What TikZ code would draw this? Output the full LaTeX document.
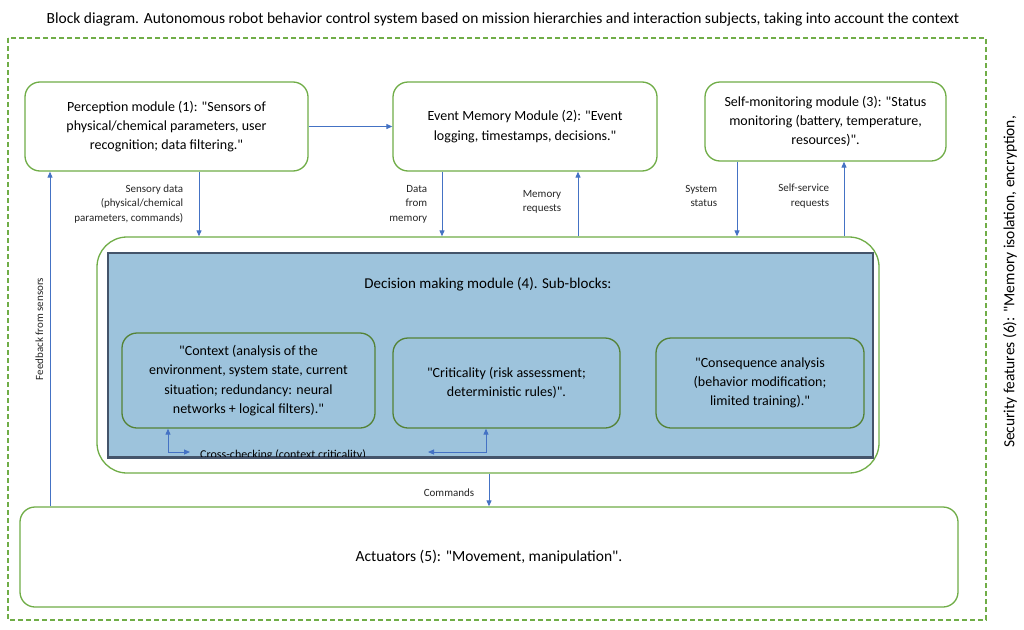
\documentclass[tikz,border=0pt]{standalone}
\usepackage{fontspec}
\setmainfont{Carlito}[Ligatures=TeXOff]
\usepackage{tikz}
\usetikzlibrary{arrows.meta}
\usetikzlibrary{calc}

\definecolor{boxgreen}{HTML}{70AD47}
\definecolor{subgreen}{HTML}{548235}
\definecolor{flowblue}{HTML}{4472C4}
\definecolor{decfill}{HTML}{9DC3DC}
\definecolor{decedge}{HTML}{44546A}

\begin{document}
\begin{tikzpicture}
[x=1pt,y=-1pt,
  moduledecorate/.style={shape=rectangle,rounded corners=15pt,draw=boxgreen,line width=1.3pt,
    align=center,inner sep=0pt,font=\fontsize{14}{19.3}\selectfont},
  subdecorate/.style={moduledecorate,draw=subgreen,fill=decfill},
  flowdecorate/.style={-{Triangle[length=6pt,width=5pt]},draw=flowblue,line width=1pt},
  crossdecorate/.style={{Triangle[length=6pt,width=5pt]}-{Triangle[length=6pt,width=5pt]},draw=flowblue,line width=1pt},
  labeldecorate/.style={align=right,font=\fontsize{11}{14.5}\selectfont,text=black!85}]
\useasboundingbox[fill=white] (0,0) rectangle (1024,629);
%% title and security frame
\node[font=\fontsize{15.5}{18}\selectfont] (title) at (503,19) {Block diagram. Autonomous robot behavior control system based on mission hierarchies and interaction subjects, taking into account the context};
\draw[draw=boxgreen,line width=1.2pt,dash pattern=on 5pt off 3pt] (8,38) rectangle (986,620);
\node[font=\fontsize{15.5}{19}\selectfont,rotate=90] (security) at (1010,282) {Security features (6): "Memory isolation, encryption,};
%% modules
\foreach \nodename/\x/\y/\w/\h/\txt in {
  percep/166.5/126.5/283/89/{Perception module (1): "Sensors of\\physical/chemical parameters, user\\recognition; data filtering."},
  evmem/525/126.5/264/89/{Event Memory Module (2): "Event\\logging, timestamps, decisions."},
  selfmon/825.5/121.5/241/79/{Self-monitoring module (3): "Status\\monitoring (battery, temperature,\\resources)".}}
{
  \node (\nodename) at (\x,\y) [moduledecorate,minimum width=\w pt,minimum height=\h pt] {\txt};
}
\node (actu) at (489,557) [moduledecorate,minimum width=938pt,minimum height=100pt,
  font=\fontsize{15.5}{19}\selectfont] {Actuators (5): "Movement, manipulation".};
%% decision making module
\node (decout) at (488,355) [moduledecorate,rounded corners=30pt,minimum width=782pt,minimum height=236pt] {};
\node (decin) at (490.5,355) [shape=rectangle,fill=decfill,draw=decedge,line width=1.8pt,
  minimum width=765pt,minimum height=204pt] {};
\node[font=\fontsize{15}{18}\selectfont] (dectitle) at (488,284) {Decision making module (4). Sub-blocks:};
\foreach \nodename/\x/\y/\w/\h/\txt in {
  context/248.5/380.5/253/95/{"Context (analysis of the\\environment, system state, current\\situation; redundancy: neural\\networks + logical filters)."},
  critic/506.5/383/227/90/{"Criticality (risk assessment;\\deterministic rules)".},
  conseq/760/383/208/90/{"Consequence analysis\\(behavior modification;\\limited training)."}}
{
  \node (\nodename) at (\x,\y) [subdecorate,minimum width=\w pt,minimum height=\h pt] {\txt};
}
%% cross-checking
\coordinate (ccleft) at (190,452);
\coordinate (ccright) at (428,452);
\draw[crossdecorate] (context.south -| 168,0) |- (ccleft);
\draw[crossdecorate] (ccright) -| (critic.south -| 486,0);
\begin{scope}
  \clip (decin.north west) rectangle ([yshift=1pt]decin.south east);
  \node[anchor=base west,inner sep=0pt,font=\fontsize{12}{14}\selectfont] (crosstext) at (200,458.5) {Cross-checking (context criticality)};
\end{scope}
\draw[draw=decedge,line width=1.8pt] (decin.south west) -- (decin.south east);
%% edges or lines
\draw[flowdecorate] (percep.east) -- (evmem.west);
\draw[flowdecorate] (percep.south -| 199,0) -- (decout.north -| 199,0)
  node[labeldecorate,midway,left=12pt] {Sensory data\\(physical/chemical\\parameters, commands)};
\draw[flowdecorate] (evmem.south -| 442,0) -- (decout.north -| 442,0)
  node[labeldecorate,midway,left=11pt] {Data\\from\\memory};
\draw[flowdecorate] (decout.north -| 578,0) -- (evmem.south -| 578,0)
  node[labeldecorate,midway,left=13pt,yshift=2pt] {Memory\\requests};
\draw[flowdecorate] (selfmon.south -| 737,0) -- (decout.north -| 737,0)
  node[labeldecorate,midway,left=16pt,yshift=3pt] {System\\status};
\draw[flowdecorate] (decout.north -| 844,0) -- (selfmon.south -| 844,0)
  node[labeldecorate,midway,left=11pt,yshift=3pt] {Self-service\\requests};
\draw[flowdecorate] (decout.south -| 489,0) -- (actu.north -| 489,0)
  node[labeldecorate,midway,left=11pt,yshift=-3pt] {Commands};
\draw[flowdecorate] (actu.north -| 50,0) -- (percep.south -| 50,0)
  node[labeldecorate,pos=0.53,sloped,above=3pt] {Feedback from sensors};
\end{tikzpicture}
\end{document}
